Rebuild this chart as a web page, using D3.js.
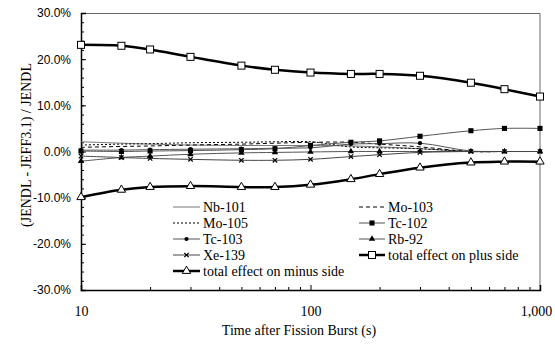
<!DOCTYPE html>
<html>
<head>
<meta charset="utf-8">
<script src="https://cdn.jsdelivr.net/npm/d3@7"></script>
<style>
body { margin: 0; background: #fff; }
svg { display: block; }
.yaxis text { font-family: "Liberation Sans", Arial, sans-serif; font-size: 12px; fill: #000; }
.xaxis text { font-family: "Liberation Serif", "Times New Roman", serif; font-size: 14px; fill: #000; }
.title, .legend text { font-family: "Liberation Serif", "Times New Roman", serif; font-size: 14px; fill: #000; }
</style>
</head>
<body>
<div id="chart"></div>
<script>
// time after fission burst (s)
var times = [10, 15, 20, 30, 50, 70, 100, 150, 200, 300, 500, 700, 1000]

// (JENDL - JEFF3.1) / JENDL, in %
var nb101  = [2.1, 1.8, 1.6, 1.4, 1.3, 1.3, 1.3, 1.2, 1.0, 0.6, 0.0, 0.0, 0.0]
var mo103  = [0.9, 1.1, 1.2, 1.4, 1.6, 1.8, 2.0, 2.0, 1.6, 1.0, 0.0, 0.0, 0.0]
var mo105  = [1.4, 1.6, 1.7, 1.9, 2.0, 2.1, 2.1, 1.0, 0.8, 0.6, 0.0, 0.0, 0.0]
var tc102  = [0.1, 0.0, 0.1, 0.2, 0.4, 0.6, 1.3, 2.0, 2.3, 3.3, 4.5, 5.0, 5.0]
var tc103  = [0.3, 0.3, 0.4, 0.5, 0.6, 0.7, 0.8, 1.6, 1.7, 1.8, 0.1, 0.0, 0.0]
var rb92   = [-2.1, -1.3, -1.0, -0.6, -0.3, -0.2, -0.1, 0.0, 0.0, 0.0, 0.0, 0.0, 0.0]
var xe139  = [-1.0, -1.3, -1.5, -1.7, -1.9, -1.9, -1.7, -1.1, -0.7, -0.2, 0.0, 0.0, 0.0]
var plusSide  = [23.1, 22.9, 22.1, 20.5, 18.6, 17.7, 17.1, 16.8, 16.8, 16.4, 14.9, 13.5, 11.9]
var minusSide = [-9.9, -8.3, -7.7, -7.5, -7.7, -7.7, -7.2, -6.0, -4.9, -3.5, -2.4, -2.2, -2.2]

var yTicks = [-30, -20, -10, 0, 10, 20, 30]
var xTicks = [10, 100, 1000]

// legend order is row by row, two columns
var series = [
    {name: "Nb-101", values: nb101, stroke: "#777", width: 1, dash: null, marker: null},
    {name: "Mo-103", values: mo103, stroke: "#000", width: 1, dash: "4,3", marker: null},
    {name: "Mo-105", values: mo105, stroke: "#000", width: 1, dash: "2,2", marker: null},
    {name: "Tc-102", values: tc102, stroke: "#555", width: 1, dash: null, marker: "square"},
    {name: "Tc-103", values: tc103, stroke: "#555", width: 1, dash: null, marker: "circle"},
    {name: "Rb-92", values: rb92, stroke: "#555", width: 1, dash: null, marker: "triangle"},
    {name: "Xe-139", values: xe139, stroke: "#444", width: 1, dash: null, marker: "x"},
    {name: "total effect on plus side", values: plusSide, stroke: "#000", width: 2.5, dash: null, marker: "openSquare"},
    {name: "total effect on minus side", values: minusSide, stroke: "#000", width: 2.5, dash: null, marker: "openTriangle"}
]

var W = 555, H = 344
var margin = {left: 81, right: 15, top: 13, bottom: 54}
var width = W - margin.left - margin.right
var height = H - margin.top - margin.bottom

var x = d3.scaleLog().domain([10, 1000]).range([0, width])
var y = d3.scaleLinear().domain([-30, 30]).range([height, 0])

var svg = d3.select("#chart").append("svg")
    .attr("width", W)
    .attr("height", H)
var g = svg.append("g")
    .attr("transform", "translate(" + margin.left + "," + margin.top + ")")

// plot frame (top and right)
g.append("path")
    .attr("d", "M0,0.5H" + width + "V" + height)
    .attr("fill", "none")
    .attr("stroke", "#666")
    .attr("stroke-width", 1)

// y axis: minor ticks every 2%, major every 10%, all inside
var minorY = d3.range(-30, 31, 2)
g.append("g").attr("class", "yaxis")
    .call(d3.axisLeft(y).tickValues(minorY).tickSize(-3).tickFormat(""))
    .call(function(s) { s.select(".domain").remove() })
g.append("g").attr("class", "yaxis")
    .call(d3.axisLeft(y).tickValues(yTicks).tickSize(-5).tickPadding(10)
        .tickFormat(function(d) { return d.toFixed(1) + "%" }))
    .call(function(s) {
        s.select(".domain").attr("stroke-width", 1.5)
    })

// x axis: log minor ticks inside
var minorX = []
;[10, 100].forEach(function(dec) {
    for (var k = 2; k <= 9; k++) minorX.push(dec * k)
})
g.append("g").attr("class", "xaxis")
    .attr("transform", "translate(0," + height + ")")
    .call(d3.axisBottom(x).tickValues(minorX).tickSize(-3).tickFormat(""))
    .call(function(s) { s.select(".domain").remove() })
g.append("g").attr("class", "xaxis")
    .attr("transform", "translate(0," + height + ")")
    .call(d3.axisBottom(x).tickValues(xTicks).tickSize(-5).tickPadding(16)
        .tickFormat(d3.format(",")))
    .call(function(s) {
        s.select(".domain").attr("stroke-width", 1.5)
        s.selectAll(".tick text").filter(function(d) { return d === 1000 }).attr("dx", -4)
    })

// axis titles
svg.append("text").attr("class", "title")
    .attr("x", 299).attr("y", 335)
    .attr("text-anchor", "middle")
    .text("Time after Fission Burst (s)")
svg.append("text").attr("class", "title")
    .attr("transform", "translate(31,145) rotate(-90)")
    .attr("text-anchor", "middle")
    .text("(JENDL - JEFF3.1) / JENDL")

// markers
function drawMarker(sel, type) {
    if (type === "square") {
        sel.append("path").attr("d", d3.symbol(d3.symbolSquare, 26)()).attr("fill", "#000")
    } else if (type === "circle") {
        sel.append("path").attr("d", d3.symbol(d3.symbolCircle, 14)()).attr("fill", "#000")
    } else if (type === "triangle") {
        sel.append("path").attr("d", d3.symbol(d3.symbolTriangle, 18)()).attr("fill", "#000")
    } else if (type === "x") {
        sel.append("path").attr("d", "M-2.2,-2.2L2.2,2.2M-2.2,2.2L2.2,-2.2")
            .attr("stroke", "#000").attr("stroke-width", 1.2).attr("fill", "none")
    } else if (type === "openSquare") {
        sel.append("rect").attr("x", -3.5).attr("y", -3.5).attr("width", 7).attr("height", 7)
            .attr("fill", "#fff").attr("stroke", "#000").attr("stroke-width", 1)
    } else if (type === "openTriangle") {
        sel.append("path").attr("d", d3.symbol(d3.symbolTriangle, 30)())
            .attr("fill", "#fff").attr("stroke", "#000").attr("stroke-width", 1)
    }
}

var line = d3.line()
    .x(function(d) { return x(d[0]) })
    .y(function(d) { return y(d[1]) })
    .curve(d3.curveCatmullRom.alpha(0.5))

series.forEach(function(s) {
    var pts = times.map(function(t, i) { return [t, s.values[i]] })
    var sg = g.append("g")
    sg.append("path")
        .attr("d", line(pts))
        .attr("fill", "none")
        .attr("stroke", s.stroke)
        .attr("stroke-width", s.width)
        .attr("stroke-dasharray", s.dash)
    if (s.marker) {
        sg.selectAll("g.pt").data(pts).enter().append("g")
            .attr("class", "pt")
            .attr("transform", function(d) { return "translate(" + x(d[0]) + "," + y(d[1]) + ")" })
            .each(function() { drawMarker(d3.select(this), s.marker) })
    }
})

// legend
var legCols = [{x0: 173, x1: 200}, {x0: 359, x1: 385}]
var legend = svg.append("g").attr("class", "legend")
series.forEach(function(s, i) {
    var c = legCols[i % 2]
    var ly = 207 + Math.floor(i / 2) * 16
    var it = legend.append("g")
    it.append("line")
        .attr("x1", c.x0).attr("x2", c.x1).attr("y1", ly).attr("y2", ly)
        .attr("stroke", s.stroke)
        .attr("stroke-width", s.width)
        .attr("stroke-dasharray", s.dash)
    if (s.marker) {
        var m = it.append("g").attr("transform", "translate(" + ((c.x0 + c.x1) / 2) + "," + ly + ")")
        drawMarker(m, s.marker)
    }
    it.append("text")
        .attr("x", c.x1 + 3).attr("y", ly).attr("dy", "0.35em")
        .text(s.name)
})
</script>
</body>
</html>
